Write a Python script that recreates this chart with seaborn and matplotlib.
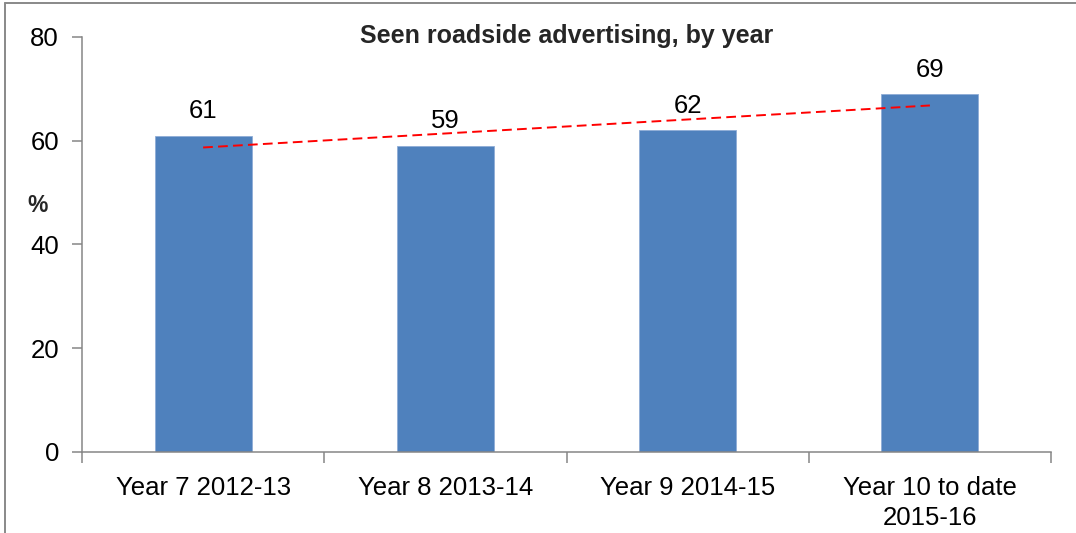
import numpy as np
import pandas as pd
import matplotlib
matplotlib.use("Agg")
import matplotlib.pyplot as plt
from matplotlib.lines import Line2D
import seaborn as sns

# Survey results: share who saw roadside advertising in each year
categories = ["Year 7 2012-13", "Year 8 2013-14", "Year 9 2014-15", "Year 10 to date\n2015-16"]
values = [61, 59, 62, 69]
y_ticks = [0, 20, 40, 60, 80]

sns.set_theme(style="white")
plt.rcParams["font.family"] = ["Liberation Sans", "DejaVu Sans"]

axis_grey = "#868686"
bar_blue = "#4F81BD"
label_size = 18.5

df = pd.DataFrame({"period": categories, "pct": values})

fig = plt.figure(figsize=(10.76, 5.33), dpi=100)
ax = fig.add_axes([0.0762, 0.152, 0.9006, 0.7786])

sns.barplot(data=df, x="period", y="pct", color=bar_blue, width=0.4,
            saturation=1, edgecolor="#8FADD6", linewidth=0.6, ax=ax)

# Linear trend across the four years
idx = np.arange(len(values))
sns.regplot(x=idx, y=np.array(values, dtype=float), scatter=False, ci=None,
            truncate=True, ax=ax,
            line_kws=dict(color="#FF0000", lw=1.4, linestyle=(0, (5, 2.7))))

# Value labels above each bar
for container in ax.containers:
    ax.bar_label(container, labels=[str(v) for v in values], padding=9,
                 fontsize=label_size, color="black")

ax.set_xlim(-0.5, len(values) - 0.5)
ax.set_ylim(0, 80)
ax.set_yticks(y_ticks)
ax.set_yticklabels([str(t) for t in y_ticks])
ax.set_xlabel("")
ax.set_ylabel("")

# Category labels at bar centres, tick marks on the category boundaries
ax.set_xticks(idx)
ax.set_xticklabels(categories, linespacing=1.35)
ax.set_xticks(np.arange(-0.5, len(values)), minor=True)
ax.tick_params(axis="x", which="major", length=0, pad=17, labelsize=label_size, colors="black")
ax.tick_params(axis="x", which="minor", length=8, width=1.1, color=axis_grey, direction="out")
ax.tick_params(axis="y", length=7, width=1.1, color=axis_grey, direction="out",
               pad=9.5, labelsize=label_size, labelcolor="black")
ax.tick_params(bottom=True, left=True, which="both")

for side in ("top", "right"):
    ax.spines[side].set_visible(False)
for side in ("left", "bottom"):
    ax.spines[side].set_color(axis_grey)
    ax.spines[side].set_linewidth(1.1)

ax.grid(False)

fig.text(0.527, 1 - 43 / 533, "Seen roadside advertising, by year",
         ha="center", va="baseline", fontsize=18, fontweight="bold")
fig.text(27 / 1076, 1 - 212 / 533, "%", ha="left", va="baseline",
         fontsize=16.5, fontweight="bold")

# Chart area frame (top and left edges)
fx = 5 / 1076
fy = 1 - 2.5 / 533
fig.add_artist(Line2D([fx, 1.0], [fy, fy], transform=fig.transFigure,
                      color="#898989", lw=1.4))
fig.add_artist(Line2D([fx, fx], [0.0, fy], transform=fig.transFigure,
                      color="#898989", lw=1.4))

fig.savefig("out.png", dpi=100, facecolor="white")
